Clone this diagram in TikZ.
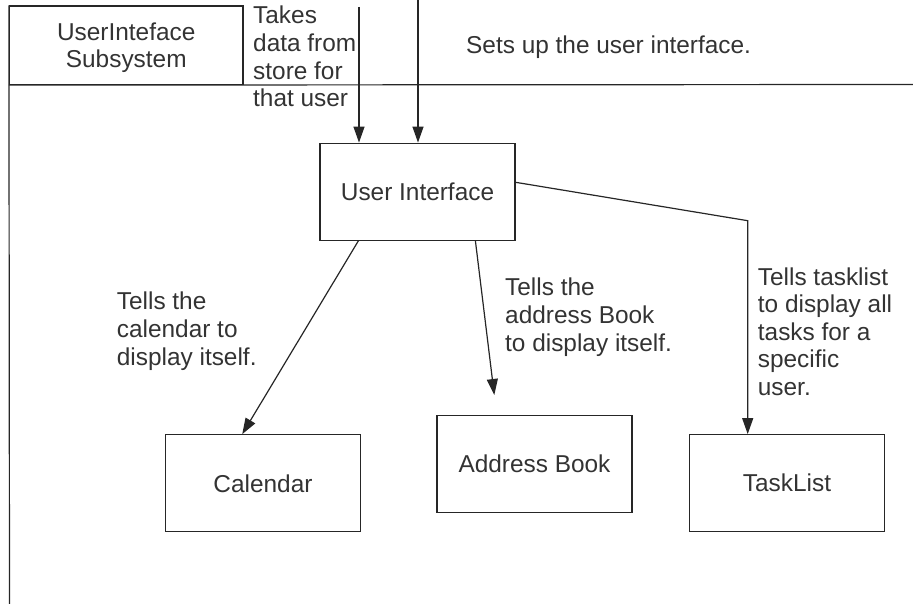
\documentclass[tikz,border=0pt]{standalone}
\usepackage{fontspec}
\setmainfont{Liberation Sans}
\usetikzlibrary{arrows.meta}
\definecolor{ink}{HTML}{333333}
\definecolor{edge}{HTML}{262626}
\tikzset{
  box/.style={draw=edge, line width=1.2pt, minimum width=195pt, minimum height=97pt,
    inner sep=0pt, text=ink, font=\fontsize{24.4}{27.6}\selectfont},
  note/.style={anchor=base west, align=left, inner sep=0pt, text=ink,
    font=\fontsize{24.4}{27.6}\selectfont},
  wire/.style={draw=edge, line width=1.2pt},
  arr/.style={wire, -{Triangle[length=16pt,width=11pt]}}
}
\begin{document}
\begin{tikzpicture}[x=1pt,y=-1pt]
\useasboundingbox (0,0) rectangle (913,604);

% swimlane header and frame
\node[draw=edge, line width=1.2pt, minimum width=233.5pt, minimum height=78.5pt, inner sep=0pt,
      align=center, text=ink, font=\fontsize{24.4}{27.6}\selectfont, text depth=0pt]
      (lane) at (126.25,45.25) {UserInteface\\Subsystem};
\coordinate (laneEnd) at (913,84.5);
\coordinate (laneFoot) at (9.5,604);
\draw[wire] (lane.south west) -- (laneEnd);
\draw[wire] (lane.north west) -- (laneFoot);

% component boxes
\node[box] (ui)  at (417.5,191.7) {User Interface};
\node[box] (cal) at (263,483.3)   {Calendar};
\node[box] (ab)  at (534.5,463.7) {Address Book};
\node[box] (tl)  at (787,483.2)   {TaskList};

% incoming calls from above
\coordinate (inA) at (359,7);
\coordinate (inB) at (418,0);
\draw[arr] (inA) -- (ui.north -| inA);
\draw[arr] (inB) -- (ui.north -| inB);

% outgoing calls
\draw[arr] ([xshift=39pt]ui.south west) -- ([xshift=77.3pt]cal.north west);
\coordinate (abTip) at (494.3,395);
\draw[arr] ([xshift=156pt]ui.south west) -- (abTip);
\coordinate (tlBend) at (747.7,220.7);
\draw[arr] ([yshift=9.4pt]ui.east) -- (tlBend) -- (tl.north -| tlBend);

% annotations (anchored at the baseline of their last line)
\node[note] (nTake) at (253,106.7) {Takes\\data from\\store for\\that user};
\node[note] (nSets) at (466,53.3)  {Sets up the user interface.};
\node[note] (nCal)  at (116.7,365) {Tells the\\calendar to\\display itself.};
\node[note] (nAb)   at (505,351)   {Tells the\\address Book\\to display itself.};
\node[note] (nTl)   at (757.7,395.5) {Tells tasklist\\to display all\\tasks for a\\specific\\user.};
\end{tikzpicture}
\end{document}
